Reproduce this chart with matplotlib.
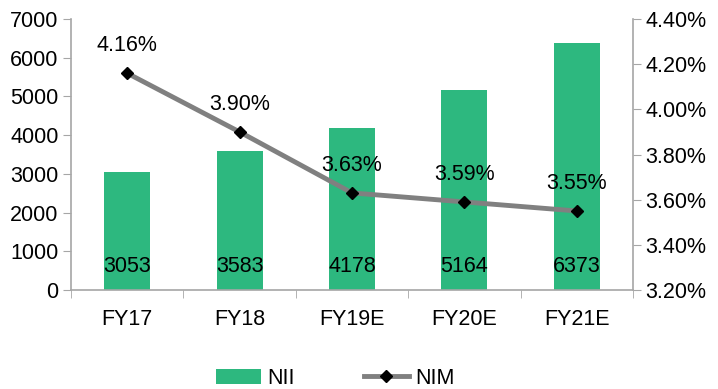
import matplotlib

matplotlib.use("Agg")
import matplotlib.pyplot as plt
from matplotlib.ticker import FixedLocator, FuncFormatter

plt.rcParams["font.family"] = ["Liberation Sans", "DejaVu Sans"]

years = ["FY17", "FY18", "FY19E", "FY20E", "FY21E"]
nii = [3053, 3583, 4178, 5164, 6373]
nim = [4.16, 3.90, 3.63, 3.59, 3.55]

BAR = "#2db87f"
LINE = "#808080"
AXIS = "#a6a6a6"
FS = 15.5

fig = plt.figure(figsize=(7.18, 3.89), dpi=100)
ax = fig.add_axes([0.099, 0.2545, 0.7826, 0.6965])
x = list(range(len(years)))

ax.bar(x, nii, width=0.41, color=BAR, label="NII", zorder=2)
for xi, v in zip(x, nii):
    ax.text(xi, 600, f"{v}", ha="center", va="center", fontsize=FS, color="black", zorder=5)

ax.set_xlim(-0.5, len(years) - 0.5)
ax.set_ylim(0, 7000)
ax.set_yticks(range(0, 7001, 1000))
ax.set_xticks(x)
ax.set_xticklabels(years)
# category separators on the x axis
ax.xaxis.set_minor_locator(FixedLocator([i - 0.5 for i in range(len(years) + 1)]))
ax.tick_params(axis="y", labelsize=FS, length=6, color=AXIS, direction="out", pad=3)
ax.tick_params(axis="x", which="major", labelsize=FS, length=0, pad=14)
ax.tick_params(axis="x", which="minor", length=6, color=AXIS, direction="out")

ax2 = ax.twinx()
ax2.plot(x, nim, color=LINE, linewidth=3.5, marker="D", markersize=6,
         markerfacecolor="black", markeredgecolor="black", label="NIM", zorder=4)
for xi, v in zip(x, nim):
    ax2.annotate(f"{v:.2f}%", (xi, v), xytext=(0, 20), textcoords="offset points",
                 ha="center", va="center", fontsize=FS)
ax2.set_ylim(3.2, 4.4)
ax2.set_yticks([3.2, 3.4, 3.6, 3.8, 4.0, 4.2, 4.4])
ax2.yaxis.set_major_formatter(FuncFormatter(lambda v, _: f"{v:.2f}%"))
ax2.tick_params(axis="y", labelsize=FS, length=6, color=AXIS, direction="out", pad=3)

for a in (ax, ax2):
    a.spines["top"].set_visible(False)
    for s in ("left", "right", "bottom"):
        a.spines[s].set_color(AXIS)
        a.spines[s].set_linewidth(1.2)
ax.spines["right"].set_visible(False)
ax2.spines["left"].set_visible(False)
ax2.spines["bottom"].set_visible(False)

h1, l1 = ax.get_legend_handles_labels()
h2, l2 = ax2.get_legend_handles_labels()
fig.legend(h1 + h2, l1 + l2, loc="center", bbox_to_anchor=(0.467, 0.028),
           ncol=2, frameon=False, fontsize=FS, handlelength=2.1,
           columnspacing=3.2, handletextpad=0.3)

fig.savefig("out.png", dpi=100)
